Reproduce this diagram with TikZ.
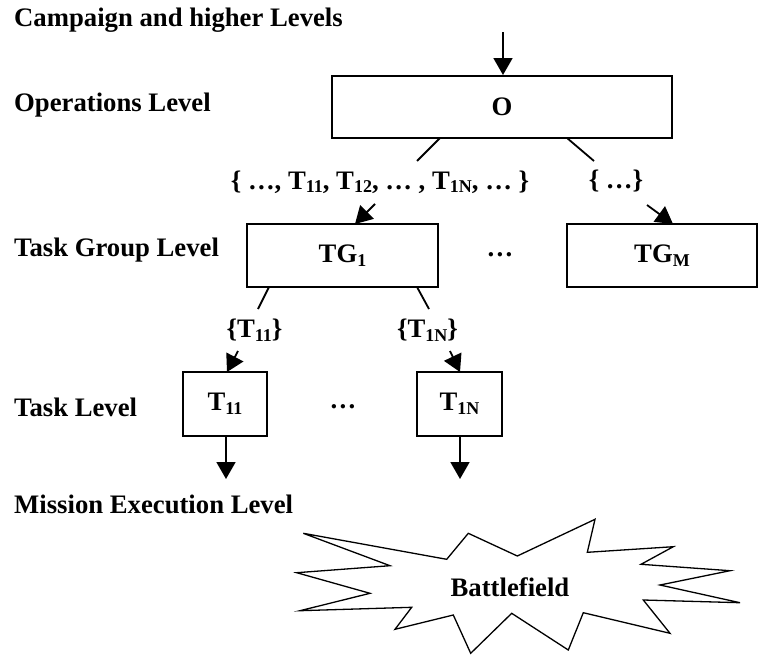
\documentclass[tikz,border=0pt]{standalone}
\usepackage{fontspec}
\setmainfont{Liberation Serif}
\usetikzlibrary{arrows.meta}
\newcommand{\subtxt}[1]{\raisebox{-0.3ex}{\fontsize{18}{18}\selectfont #1}}
\begin{document}
\begin{tikzpicture}[x=1pt,y=-1pt,
  every node/.style={font=\fontsize{26.7}{28}\selectfont\bfseries},
  lvl/.style={anchor=west,inner sep=0pt},
  boxn/.style={draw,line width=2pt,minimum height=62pt,inner sep=0pt},
  conn/.style={line width=1.8pt},
  arr/.style={line width=1.8pt,-{Triangle[length=17pt,width=19pt]}},
  lbl/.style={inner sep=0pt}]
\useasboundingbox (0,0) rectangle (758,656);
% level labels
\node[lvl] (lcamp) at (14,20) {Campaign and higher Levels};
\node[lvl] (lops) at (14,105) {Operations Level};
\node[lvl] (ltg) at (14,250) {Task Group Level};
\node[lvl] (ltask) at (14,407) {Task Level};
\node[lvl] (lmis) at (14,504) {Mission Execution Level};
% boxes
\node[boxn,minimum width=340pt] (O) at (502,107) {O};
\node[boxn,minimum width=191pt,minimum height=63pt] (TG1) at (342.5,255.5) {TG\subtxt{1}};
\node[boxn,minimum width=190pt,minimum height=63pt] (TGM) at (662,255.5) {TG\subtxt{M}};
\node[lbl] (dots1) at (500,255) {\dots};
\node[boxn,minimum width=84pt,minimum height=64pt] (T11) at (225,404) {T\subtxt{11}};
\node[boxn,minimum width=85pt,minimum height=64pt] (T1N) at (459.5,404) {T\subtxt{1N}};
\node[lbl] (dots2) at (343,407) {\dots};
% labels on connectors
\node[lbl] (setA) at (380,182) {\{ \dots, T\subtxt{11}, T\subtxt{12}, \dots\ , T\subtxt{1N}, \dots\ \}};
\node[lbl] (setB) at (616,181) {\{ \dots\}};
\node[lbl] (setC) at (254.5,330) {\{T\subtxt{11}\}};
\node[lbl] (setD) at (427.5,330) {\{T\subtxt{1N}\}};
% coordinates
\coordinate (top) at (503,32);
\coordinate (oa) at (440,138);
\coordinate (oa2) at (417,161);
\coordinate (ta1) at (375,204);
\coordinate (ta2) at (355,224);
\coordinate (ob) at (567,138);
\coordinate (ob2) at (594,161);
\coordinate (tb1) at (647,205);
\coordinate (tb2) at (673,224);
\coordinate (ga) at (269,287);
\coordinate (ga2) at (258,309);
\coordinate (tc1) at (238,351);
\coordinate (tc2) at (227,372);
\coordinate (gb) at (417,287);
\coordinate (gb2) at (429,309);
\coordinate (td1) at (450,351);
\coordinate (td2) at (460,372);
\coordinate (e1) at (226,479);
\coordinate (e2) at (460,479);
% connectors
\draw[arr] (top) -- (O.north -| top);
\draw[conn] (oa) -- (oa2);
\draw[arr] (ta1) -- (ta2);
\draw[conn] (ob) -- (ob2);
\draw[arr] (tb1) -- (tb2);
\draw[conn] (ga) -- (ga2);
\draw[arr] (tc1) -- (tc2);
\draw[conn] (gb) -- (gb2);
\draw[arr] (td1) -- (td2);
\draw[arr] (T11.south -| e1) -- (e1);
\draw[arr] (T1N.south -| e2) -- (e2);
% battlefield starburst
\draw[line width=1.3pt,line join=miter] (303.3,533.3) -- (390,565.7) -- (296.7,572.7) -- (370,593.3) -- (300,610.7) -- (411.7,607.3) -- (395,629.3) -- (453.3,615) -- (470.7,653.3) -- (511.7,613.3) -- (568.3,650) -- (583.3,612.7) -- (670,633.3) -- (643.3,600) -- (740,602.7) -- (660,585) -- (730,570.7) -- (641,564.3) -- (673.3,546.7) -- (587.3,552.3) -- (595,519.3) -- (517.3,556) -- (468.3,533.3) -- (446.7,559.3) -- cycle;
\node[lbl] (bf) at (510,587) {Battlefield};
\end{tikzpicture}
\end{document}
